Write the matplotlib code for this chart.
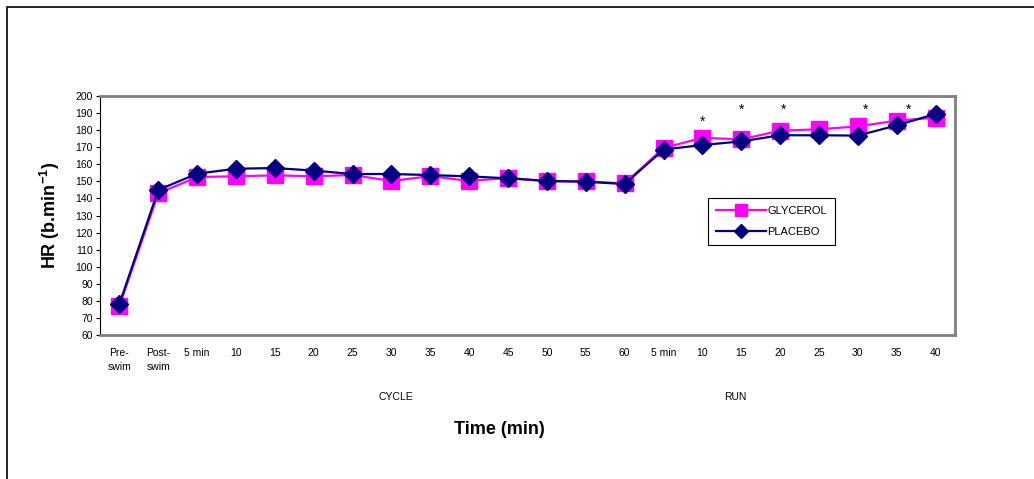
import matplotlib
matplotlib.use("Agg")
import matplotlib.pyplot as plt
from matplotlib.patches import Rectangle

plt.rcParams['font.family'] = ['Liberation Sans', 'DejaVu Sans']
plt.rcParams['mathtext.fontset'] = 'custom'
plt.rcParams['mathtext.rm'] = 'Liberation Sans'
plt.rcParams['mathtext.bf'] = 'Liberation Sans:bold'

# Time points: swim, then cycle, then run
time_labels = ["Pre-\nswim", "Post-\nswim", "5 min", "10", "15", "20", "25", "30",
               "35", "40", "45", "50", "55", "60",
               "5 min", "10", "15", "20", "25", "30", "35", "40"]
glycerol = [77, 143, 152.5, 153, 153.5, 153, 153.7, 150.2, 153.1, 150.2, 152, 150.2,
            150, 148.8, 169.5, 175.5, 174.6, 179.7, 180.5, 182.2, 185.6, 187.3]
placebo = [78.2, 145, 154.5, 157.4, 157.8, 156.3, 154.3, 154.3, 153.7, 152.9, 151.8,
           150.2, 149.8, 148.4, 168.6, 171.3, 173.4, 177, 177, 176.8, 182.8, 189.5]
# significance markers: (x position in category units, y value)
star_x = [15.0, 16.0, 17.1, 19.2, 20.3]
star_y = [185.0, 192.2, 192.2, 192.2, 192.2]


def main():
    fig = plt.figure(figsize=(10.34, 4.79), dpi=100)
    ax = fig.add_axes([0.0967, 0.3006, 0.8269, 0.499])

    x = list(range(len(time_labels)))
    ax.plot(x, glycerol, color="#FF00FF", lw=1.6, marker="s", ms=11,
            label="GLYCEROL", zorder=3)
    ax.plot(x, placebo, color="#000080", lw=1.6, marker="D", ms=9,
            label="PLACEBO", zorder=4)
    for sx, sy in zip(star_x, star_y):
        ax.text(sx, sy, "*", ha="center", va="center", fontsize=10, zorder=5)

    ax.set_xlim(-0.5, len(x) - 0.5)
    ax.set_ylim(60, 200)
    ax.set_yticks(range(60, 201, 10))
    ax.set_xticks(x)
    ax.set_xticklabels(time_labels, fontsize=7.5, linespacing=1.5)
    ax.tick_params(axis="x", length=0, pad=9)
    ax.tick_params(axis="y", labelsize=7.5, length=3, width=0.8, pad=2)

    for side in ["top", "right", "bottom"]:
        ax.spines[side].set_color("#808080")
        ax.spines[side].set_linewidth(2)
    ax.spines["left"].set_color("black")
    ax.spines["left"].set_linewidth(0.8)

    ax.set_ylabel(r"HR (b.min$^{\mathbf{-1}}$)", fontsize=13, fontweight="bold",
                  labelpad=10)

    leg = ax.legend(loc="upper left", bbox_to_anchor=(0.705, 0.595), fontsize=8,
                    fancybox=False, edgecolor="black", framealpha=1,
                    markerscale=0.75, handlelength=4.5, borderpad=0.7,
                    labelspacing=1.0, handletextpad=0.1)
    leg.get_frame().set_linewidth(0.8)

    fig.text(396 / 1034, 1 - 397 / 479, "CYCLE", ha="center", va="center", fontsize=7.5)
    fig.text(735 / 1034, 1 - 397 / 479, "RUN", ha="center", va="center", fontsize=7.5)
    fig.text(499 / 1034, 1 - 429 / 479, "Time (min)", ha="center", va="center",
             fontsize=13, fontweight="bold")

    # outer chart frame (left and top edges visible)
    fig.patches.append(Rectangle((7 / 1034, -0.1), 1.2, 1 - 7 / 479 + 0.1,
                                 transform=fig.transFigure, fill=False,
                                 edgecolor="black", lw=1.2))

    fig.savefig("out.png", dpi=100)
    plt.close(fig)


if __name__ == "__main__":
    main()
